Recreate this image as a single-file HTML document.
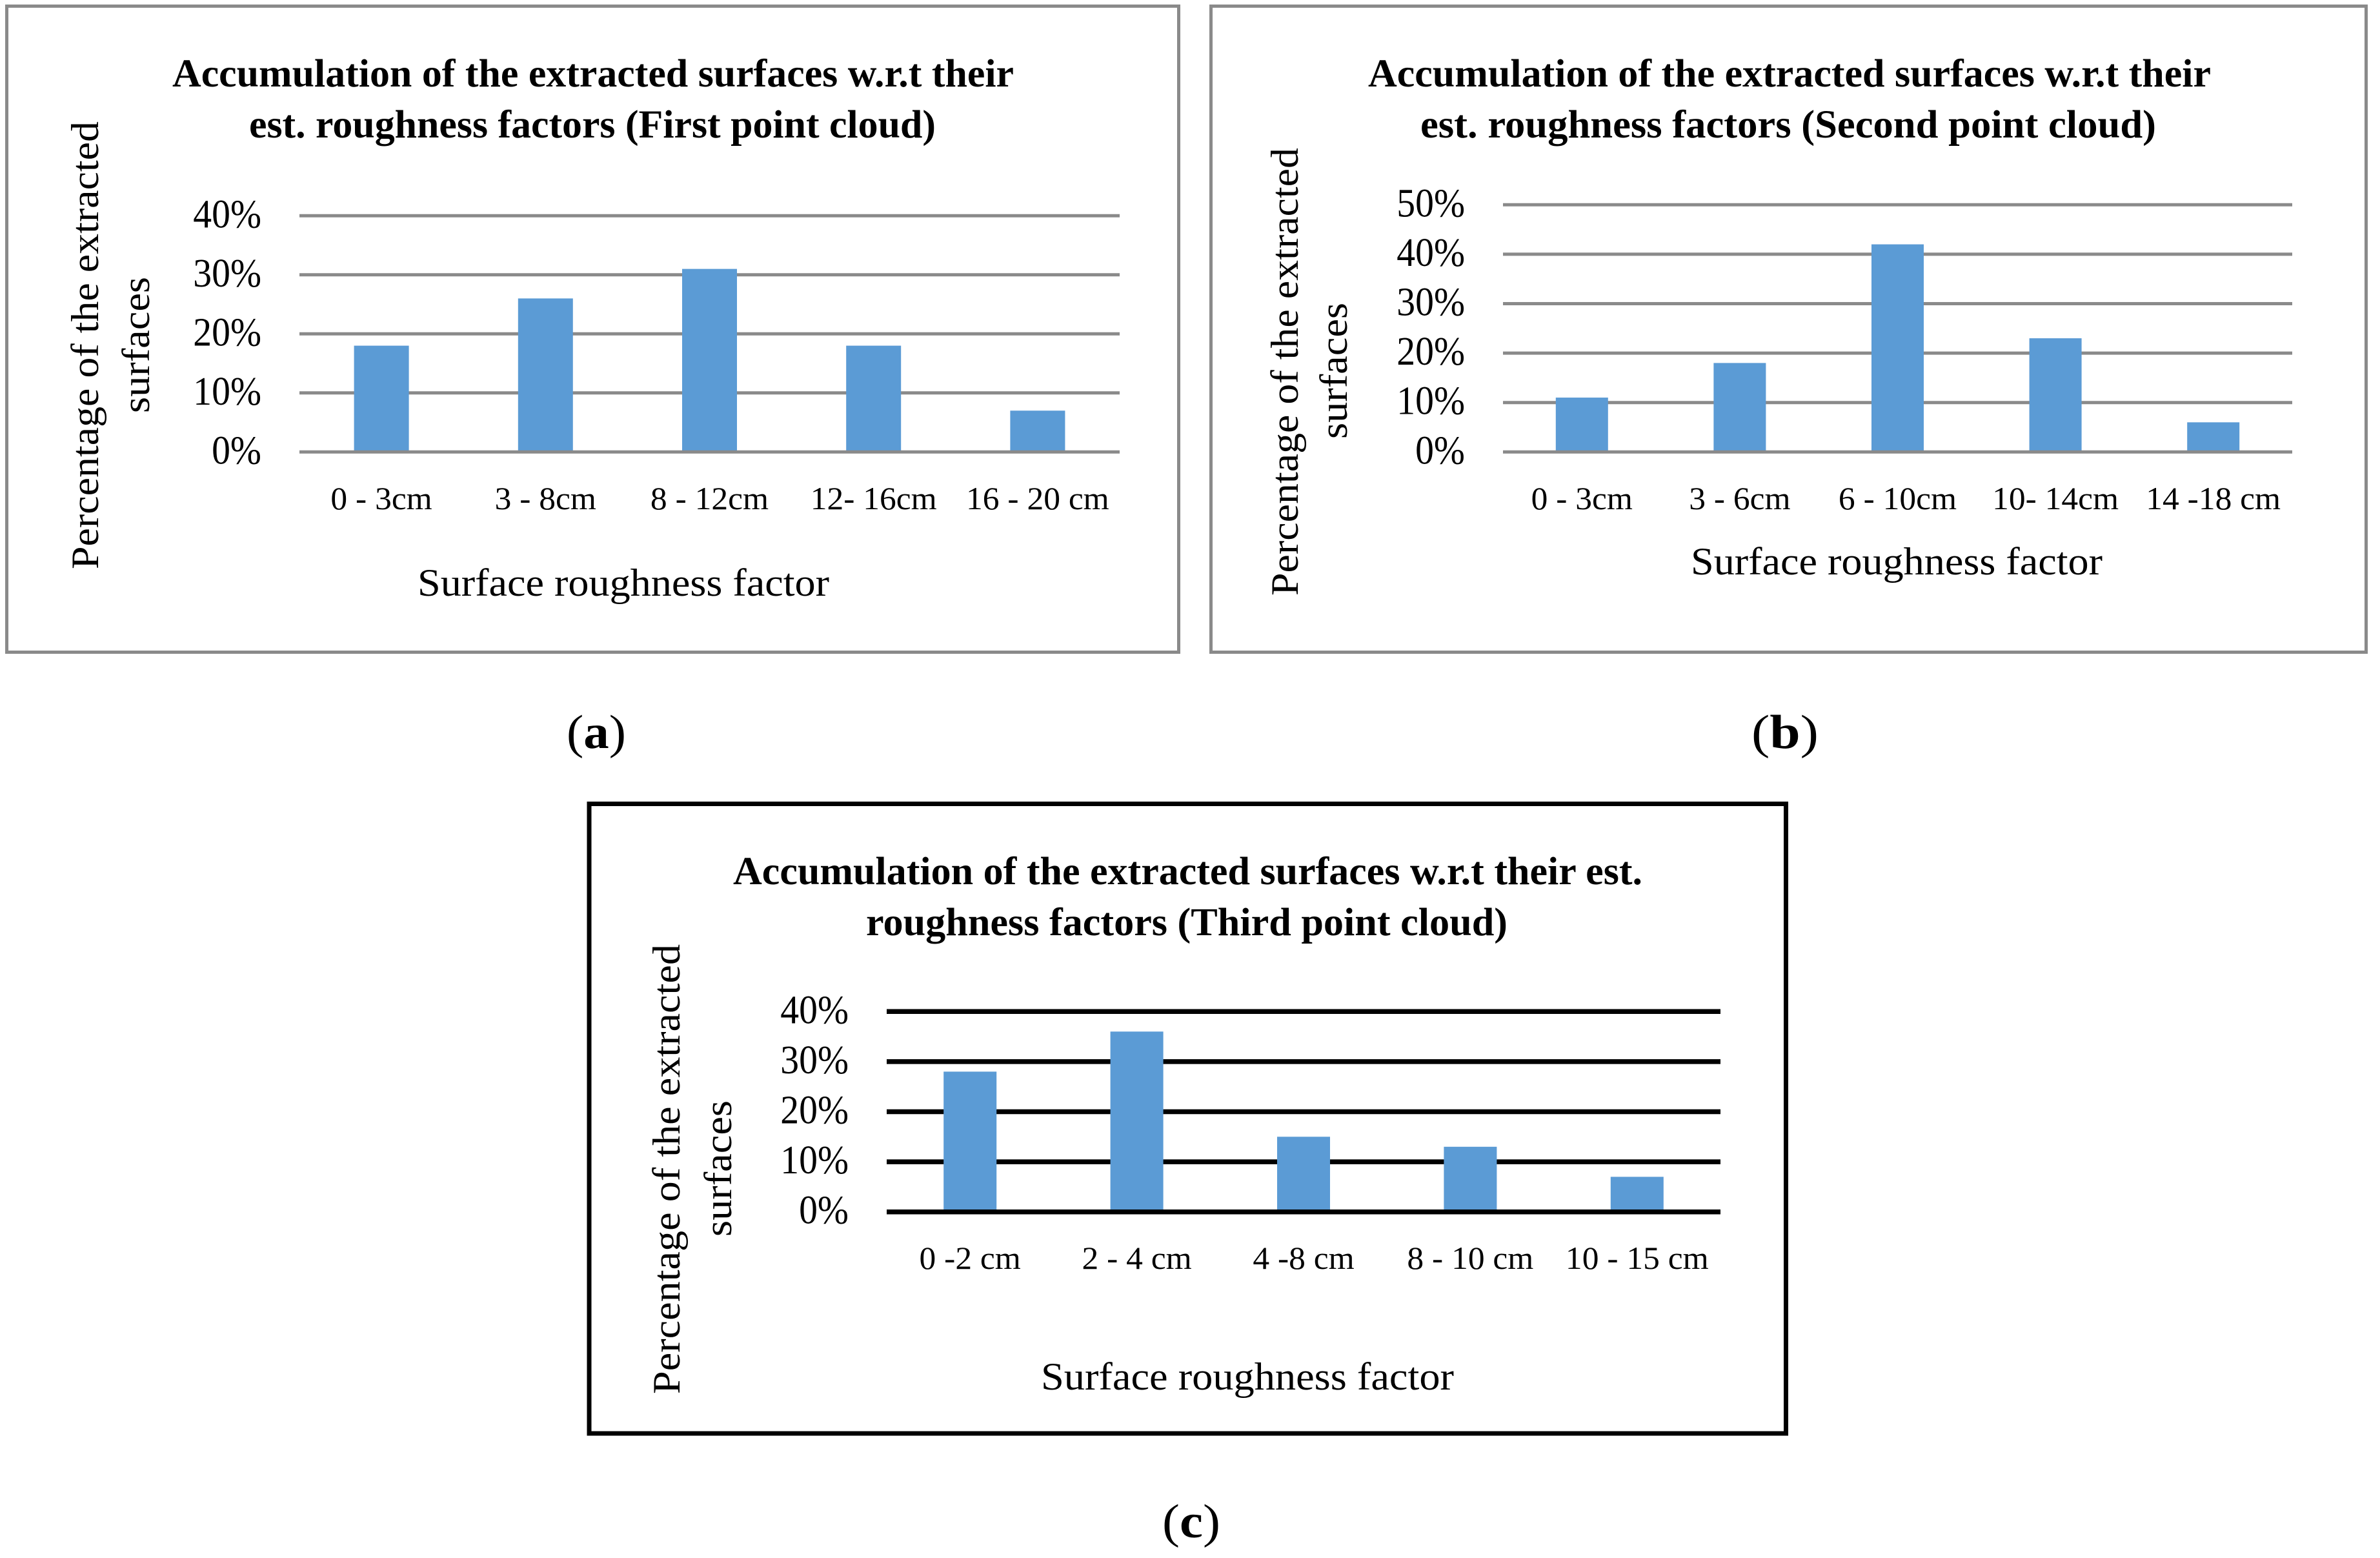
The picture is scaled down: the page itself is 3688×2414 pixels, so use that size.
<!DOCTYPE html>
<html lang="en">
<head>
<meta charset="utf-8">
<title>Accumulation of the extracted surfaces</title>
<style>
html,body{margin:0;padding:0;background:#fff;}
svg{display:block;}
text{font-family:"Liberation Serif","DejaVu Serif",serif;fill:#000;}
.title{font-size:61px;font-weight:bold;}
.axis-title{font-size:60px;}
.caption{font-size:74px;}
</style>
</head>
<body>
<svg id="figure" xmlns="http://www.w3.org/2000/svg" width="3688" height="2414" viewBox="0 0 3688 2414">
  <rect x="0" y="0" width="3688" height="2414" fill="#ffffff"/>

  <g id="chart-a">
    <rect x="10.5" y="9.5" width="1816" height="1001" fill="#fff" stroke="#8a8a8a" stroke-width="5"/>
    <text class="title" x="267" y="134" textLength="1304" lengthAdjust="spacingAndGlyphs">Accumulation of the extracted surfaces w.r.t their</text>
    <text class="title" x="386" y="213" textLength="1064" lengthAdjust="spacingAndGlyphs">est. roughness factors (First point cloud)</text>
    <text class="axis-title" transform="translate(152 882) rotate(-90)" textLength="694" lengthAdjust="spacingAndGlyphs">Percentage of the extracted</text>
    <text class="axis-title" transform="translate(231 640) rotate(-90)" textLength="211" lengthAdjust="spacingAndGlyphs">surfaces</text>
    <text class="axis-title" x="647" y="923" textLength="638" lengthAdjust="spacingAndGlyphs">Surface roughness factor</text>
  </g>

  <g id="chart-b">
    <rect x="1876.5" y="9.5" width="1790" height="1001" fill="#fff" stroke="#8a8a8a" stroke-width="5"/>
    <text class="title" x="2120" y="134" textLength="1306" lengthAdjust="spacingAndGlyphs">Accumulation of the extracted surfaces w.r.t their</text>
    <text class="title" x="2201" y="213" textLength="1140" lengthAdjust="spacingAndGlyphs">est. roughness factors (Second point cloud)</text>
    <text class="axis-title" transform="translate(2011 923) rotate(-90)" textLength="694" lengthAdjust="spacingAndGlyphs">Percentage of the extracted</text>
    <text class="axis-title" transform="translate(2087 680) rotate(-90)" textLength="211" lengthAdjust="spacingAndGlyphs">surfaces</text>
    <text class="axis-title" x="2620" y="890" textLength="638" lengthAdjust="spacingAndGlyphs">Surface roughness factor</text>
  </g>

  <g id="chart-c">
    <rect x="913" y="1245.5" width="1854.5" height="975.5" fill="#fff" stroke="#000" stroke-width="7"/>
    <text class="title" x="1136" y="1370" textLength="1409" lengthAdjust="spacingAndGlyphs">Accumulation of the extracted surfaces w.r.t their est.</text>
    <text class="title" x="1342" y="1449" textLength="994" lengthAdjust="spacingAndGlyphs">roughness factors (Third point cloud)</text>
    <text class="axis-title" transform="translate(1053 2160) rotate(-90)" textLength="697" lengthAdjust="spacingAndGlyphs">Percentage of the extracted</text>
    <text class="axis-title" transform="translate(1133 1916) rotate(-90)" textLength="211" lengthAdjust="spacingAndGlyphs">surfaces</text>
    <text class="axis-title" x="1613" y="2153" textLength="640" lengthAdjust="spacingAndGlyphs">Surface roughness factor</text>
  </g>

  <text class="caption" x="878" y="1159" textLength="92" lengthAdjust="spacingAndGlyphs">(<tspan font-weight="bold">a</tspan>)</text>
  <text class="caption" x="2714" y="1159" textLength="104" lengthAdjust="spacingAndGlyphs">(<tspan font-weight="bold">b</tspan>)</text>
  <text class="caption" x="1801" y="2382" textLength="90" lengthAdjust="spacingAndGlyphs">(<tspan font-weight="bold">c</tspan>)</text>
</svg>

<script>
const chartACategories = ["0 - 3cm", "3 - 8cm", "8 - 12cm", "12- 16cm", "16 - 20 cm"];
const chartAValues = [18, 26, 31, 18, 7];
const chartATicks = [0, 10, 20, 30, 40];

const chartBCategories = ["0 - 3cm", "3 - 6cm", "6 - 10cm", "10- 14cm", "14 -18 cm"];
const chartBValues = [11, 18, 42, 23, 6];
const chartBTicks = [0, 10, 20, 30, 40, 50];

const chartCCategories = ["0 -2 cm", "2 - 4 cm", "4 -8 cm", "8 - 10 cm", "10 - 15 cm"];
const chartCValues = [28, 36, 15, 13, 7];
const chartCTicks = [0, 10, 20, 30, 40];

const SVG_NS = "http://www.w3.org/2000/svg";

function makeNode(tag, attrs, parent) {
  const node = document.createElementNS(SVG_NS, tag);
  for (const key in attrs) node.setAttribute(key, attrs[key]);
  parent.appendChild(node);
  return node;
}

function fitText(node, stretch) {
  const measured = node.getComputedTextLength();
  node.setAttribute("textLength", (measured * stretch).toFixed(1));
  node.setAttribute("lengthAdjust", "spacingAndGlyphs");
}

function drawChart(parentId, categories, values, ticks, box) {
  const parent = document.getElementById(parentId);
  const maxTick = ticks[ticks.length - 1];
  const yScale = function (v) { return box.bottom - (v / maxTick) * (box.bottom - box.top); };
  const slot = (box.right - box.left) / categories.length;
  const xCenter = function (i) { return box.left + slot * (i + 0.5); };

  ticks.forEach(function (tick) {
    if (tick === 0) return;
    const grid = makeNode("line", {
      x1: box.left, x2: box.right, y1: yScale(tick), y2: yScale(tick),
      stroke: box.lineColor, "stroke-width": box.lineWidth
    }, parent);
    
    
  });

  values.forEach(function (value, i) {
    const bar = makeNode("rect", {
      x: xCenter(i) - box.barWidth / 2,
      y: yScale(value),
      width: box.barWidth,
      height: box.bottom - yScale(value),
      fill: "#5b9bd5"
    }, parent);
    
    
  });

  const baseline = makeNode("line", {
    x1: box.left, x2: box.right, y1: box.bottom, y2: box.bottom,
    stroke: box.lineColor, "stroke-width": box.lineWidth
  }, parent);
  
  

  ticks.forEach(function (tick) {
    const label = makeNode("text", {
      x: box.tickRight, y: yScale(tick) + 18, "text-anchor": "end", "font-size": 62
    }, parent);
    label.textContent = tick + "%";
    
    
    fitText(label, 0.93);
  });

  categories.forEach(function (category, i) {
    const label = makeNode("text", {
      x: xCenter(i), y: box.xLabelY, "text-anchor": "middle", "font-size": 50
    }, parent);
    label.textContent = category;
    
    
    fitText(label, 1.03);
  });
}

drawChart("chart-a", chartACategories, chartAValues, chartATicks, {
  left: 464, right: 1735, top: 334.3, bottom: 700.3, barWidth: 85,
  lineColor: "#8a8a8a", lineWidth: 5, tickRight: 405, xLabelY: 789
});
drawChart("chart-b", chartBCategories, chartBValues, chartBTicks, {
  left: 2329, right: 3552, top: 317.3, bottom: 700.3, barWidth: 81,
  lineColor: "#8a8a8a", lineWidth: 5, tickRight: 2270, xLabelY: 789
});
drawChart("chart-c", chartCCategories, chartCValues, chartCTicks, {
  left: 1374, right: 2666, top: 1567.3, bottom: 1877.7, barWidth: 82,
  lineColor: "#000000", lineWidth: 7.5, tickRight: 1315, xLabelY: 1966
});
</script>
</body>
</html>
